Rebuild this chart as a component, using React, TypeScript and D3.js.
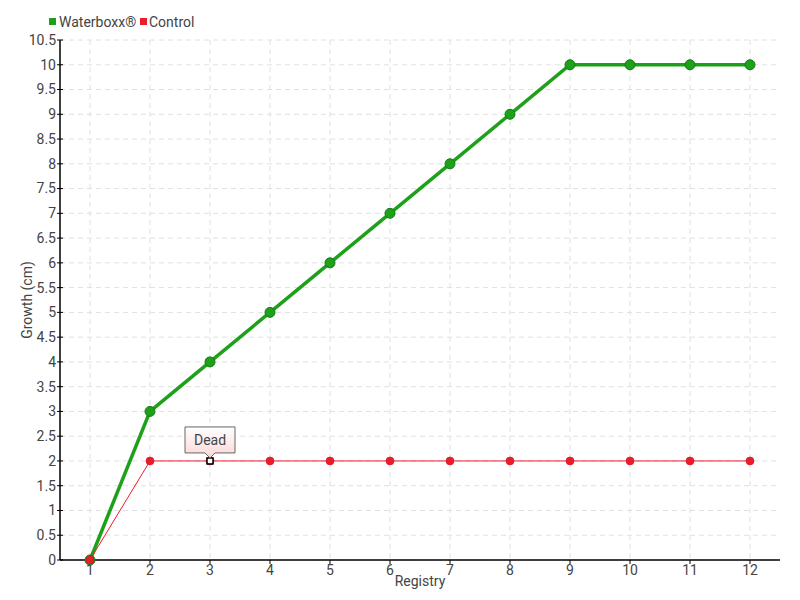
import React from "react";
import * as d3 from "d3";

const registry = [1, 2, 3, 4, 5, 6, 7, 8, 9, 10, 11, 12];
const waterboxx = [0, 3, 4, 5, 6, 7, 8, 9, 10, 10, 10, 10];
const control = [0, 2, 2, 2, 2, 2, 2, 2, 2, 2, 2, 2];
const yTicks = d3.range(0, 10.51, 0.5);
const seriesNames = ["Waterboxx®", "Control"];
const annotation = { index: 2, text: "Dead" };

const W = 800, H = 600;
const FONT = "Roboto, 'DejaVu Sans', sans-serif";

export default function App() {
  const x = d3.scaleLinear().domain([0.5, 12.5]).range([60, 780]);
  const y = d3.scaleLinear().domain([0, 10.5]).range([560, 40]);
  const line = d3.line<number>().x((_, i) => x(registry[i])).y((d) => y(d));
  const green = "#1ea01a";
  const red = "#ec1c2c";
  const ax = x(registry[annotation.index]);
  const ay = y(control[annotation.index]);
  return (
    <svg width={W} height={H} style={{ position: "absolute", left: 0, top: 0, fontFamily: FONT }}>
      <defs>
        <linearGradient id="tipg" x1="0" y1="0" x2="0" y2="1">
          <stop offset="0" stopColor="#ffffff" />
          <stop offset="1" stopColor="#fcd6d6" />
        </linearGradient>
      </defs>
      <rect width={W} height={H} fill="#fff" />
      {yTicks.map((t) => (
        <line key={"gy" + t} x1={60} x2={780} y1={y(t)} y2={y(t)} stroke="#e0e0e0" strokeDasharray="5,4" />
      ))}
      {registry.map((t) => (
        <line key={"gx" + t} x1={x(t)} x2={x(t)} y1={40} y2={560} stroke="#e0e0e0" strokeDasharray="5,4" />
      ))}
      <line x1={60} x2={60} y1={40} y2={560} stroke="#000" strokeWidth={1.5} />
      <line x1={60} x2={780} y1={560} y2={560} stroke="#000" strokeWidth={1.5} />
      {yTicks.map((t) => (
        <g key={"yt" + t}>
          <line x1={57} x2={63} y1={y(t)} y2={y(t)} stroke="#000" />
          <text x={56} y={y(t)} dy="0.35em" textAnchor="end" fontSize={14} fill="#444">{String(t)}</text>
        </g>
      ))}
      {registry.map((t) => (
        <g key={"xt" + t}>
          <line x1={x(t)} x2={x(t)} y1={560} y2={564} stroke="#000" />
          <text x={x(t)} y={575} textAnchor="middle" fontSize={14} fill="#444">{t}</text>
        </g>
      ))}
      <text x={420} y={586} textAnchor="middle" fontSize={14} fill="#444">Registry</text>
      <text transform={`translate(32,300) rotate(-90)`} textAnchor="middle" fontSize={14} fill="#444">Growth (cm)</text>
      <path d={line(waterboxx) || ""} fill="none" stroke={green} strokeWidth={3.5} />
      <path d={line(control) || ""} fill="none" stroke={red} strokeWidth={1} />
      {waterboxx.map((v, i) => (
        <circle key={"gp" + i} cx={x(registry[i])} cy={y(v)} r={5} fill={green} stroke="#157a12" strokeWidth={1} />
      ))}
      {control.map((v, i) => (
        <circle key={"rp" + i} cx={x(registry[i])} cy={y(v)} r={4} fill={red} stroke="#c8101e" strokeWidth={0.5} />
      ))}
      <rect x={ax - 3} y={ay - 3} width={6} height={6} fill="#fff" stroke="#000" strokeWidth={1.5} />
      <path
        d={`M${ax - 25},${ay - 34} h50 v26 h-20 l-5,5 l-5,-5 h-20 z`}
        fill="url(#tipg)"
        stroke="#666"
        strokeWidth={1}
      />
      <text x={ax} y={ay - 21} dy="0.35em" textAnchor="middle" fontSize={14} fill="#444">{annotation.text}</text>
      <rect x={49} y={18} width={7} height={7} fill={green} />
      <text x={59} y={22} dy="0.35em" fontSize={14} fill="#444">{seriesNames[0]}</text>
      <rect x={140} y={18} width={7} height={7} fill={red} />
      <text x={149} y={22} dy="0.35em" fontSize={14} fill="#444">{seriesNames[1]}</text>
    </svg>
  );
}
